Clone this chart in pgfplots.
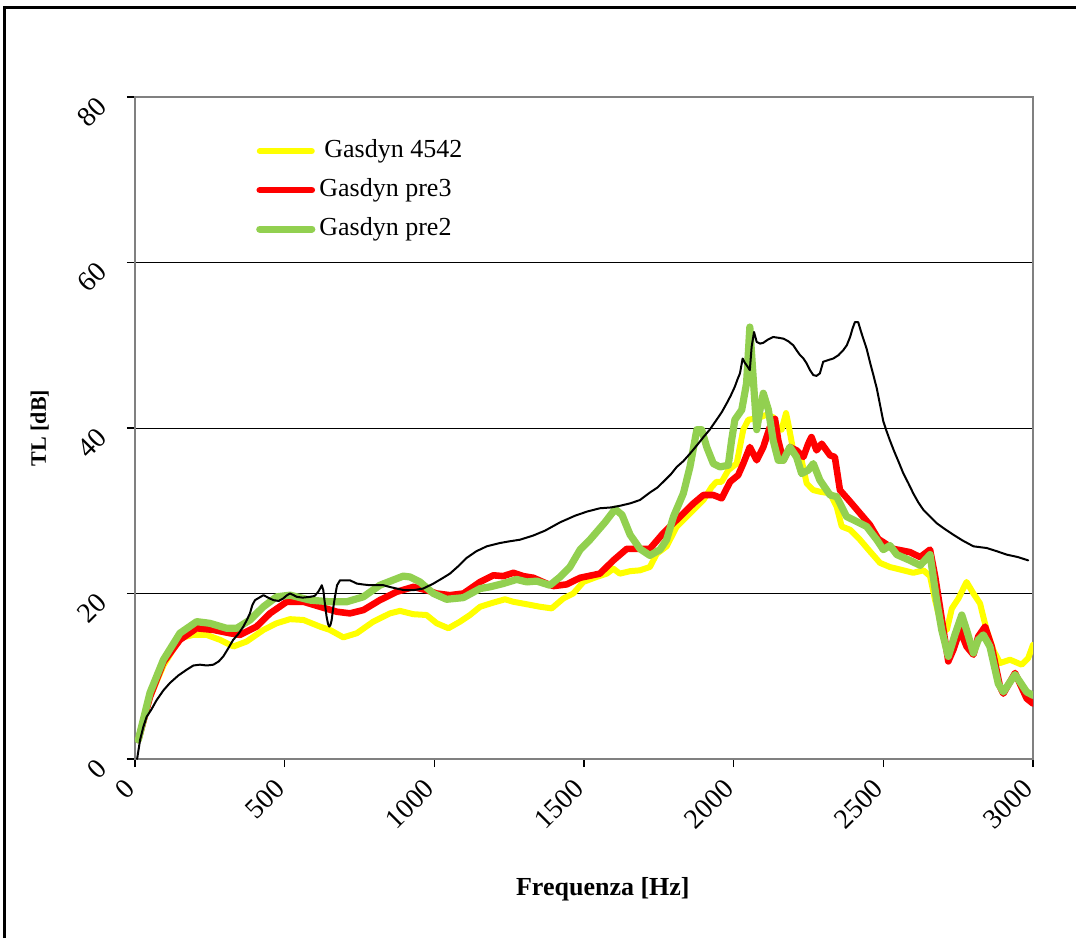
\documentclass[border=0pt]{standalone}
\usepackage{pgfplots}
\pgfplotsset{compat=1.18}
\usepackage{fontspec}
\setmainfont{Liberation Serif}
\definecolor{tlyellow}{RGB}{255,255,0}
\definecolor{tlred}{RGB}{255,0,0}
\definecolor{tlgreen}{RGB}{146,208,80}
\definecolor{framegray}{RGB}{128,128,128}

\pgfplotstableread{
f tl
11 2.3
50 7.5
95 11.3
150 14.6
195 15
239 15
284 14.4
329 13.6
373 14.2
429 15.6
473 16.4
518 16.9
563 16.8
618 16.0
651 15.6
696 14.7
741 15.2
796 16.6
852 17.6
885 17.9
930 17.5
974 17.4
1008 16.4
1047 15.8
1086 16.6
1119 17.4
1153 18.4
1197 18.9
1236 19.3
1264 19.0
1309 18.7
1353 18.4
1392 18.2
1431 19.4
1464 20.0
1498 21.4
1542 22.0
1576 22.4
1598 23.0
1620 22.4
1654 22.7
1687 22.8
1720 23.2
1743 24.8
1776 25.7
1810 28.1
1866 30.1
1899 31.3
1927 32.9
1943 33.5
1960 33.5
1982 34.9
2010 35.7
2032 39.8
2049 41.0
2065 41.1
2088 41.3
2110 41.6
2132 41.3
2149 39.8
2160 39.8
2175 41.8
2182 40.6
2199 37.3
2227 36.1
2244 33.3
2266 32.5
2288 32.3
2322 32.1
2344 30.5
2361 28.1
2389 27.7
2422 26.5
2455 25.1
2489 23.7
2522 23.2
2556 22.9
2600 22.5
2634 22.8
2656 22.1
2673 19.2
2689 16.8
2712 15.6
2729 18.2
2751 19.4
2778 21.4
2801 20.0
2823 18.8
2845 15.6
2867 13.2
2890 11.6
2923 12.0
2962 11.4
2984 12.2
3000 13.8
}\gasdynA

\pgfplotstableread{
f tl
11 2.3
50 7.5
95 11.7
150 14.4
206 15.8
262 15.6
317 15.2
351 15.0
406 16
451 17.6
507 19
563 19
618 18.4
674 17.8
718 17.6
763 18
818 19.2
874 20.2
930 20.8
974 20.4
1008 20.0
1052 19.8
1097 20.0
1153 21.4
1197 22.2
1230 22.1
1264 22.5
1297 22.1
1331 21.9
1375 21.2
1398 20.9
1442 21.1
1487 21.9
1553 22.4
1598 24.0
1643 25.4
1687 25.4
1720 25.4
1765 27.3
1821 29.3
1866 30.9
1899 31.9
1932 31.9
1960 31.5
1988 33.5
2015 34.3
2032 35.7
2054 37.7
2077 36.1
2099 37.7
2121 40.1
2138 41.1
2149 38.5
2166 36.1
2188 37.7
2210 37.3
2233 36.5
2249 38.1
2260 38.9
2277 37.3
2294 38.1
2322 36.7
2338 36.5
2355 32.5
2389 31.1
2422 29.7
2455 28.3
2483 26.6
2533 25.4
2589 25.0
2623 24.4
2656 25.3
2673 22.1
2689 18.4
2717 11.8
2734 13.2
2756 15.6
2778 13.6
2801 12.6
2817 14.8
2840 16.0
2862 13.6
2890 8.7
2901 7.9
2940 10.4
2979 7.3
3000 6.7
}\gasdynB

\pgfplotstableread{
f tl
11 2.3
50 8
95 12
150 15.2
206 16.6
250 16.4
306 15.8
340 15.8
384 16.8
429 18.4
473 19.6
518 19.8
585 19.2
651 19.0
707 19.0
763 19.6
818 21
896 22.1
919 22.0
952 21.4
997 20.0
1041 19.3
1097 19.5
1153 20.6
1186 20.8
1230 21.2
1275 21.7
1309 21.4
1342 21.5
1386 21.0
1420 22.0
1453 23.2
1487 25.3
1520 26.5
1570 28.6
1604 30.2
1627 29.5
1654 27.1
1687 25.4
1720 24.6
1754 25.3
1776 26.5
1799 29.3
1832 32.1
1854 35.3
1877 39.8
1893 39.8
1910 37.7
1932 35.7
1954 35.3
1982 35.5
1993 38.5
2004 41
2027 42.2
2043 45.4
2054 52.2
2065 46.2
2077 39.8
2088 42.2
2099 44.2
2116 42.2
2132 38.5
2149 36.1
2166 36.1
2188 37.7
2210 36.5
2227 34.5
2249 34.9
2266 35.7
2288 33.7
2322 31.9
2344 31.7
2377 29.3
2411 28.7
2444 28.1
2478 26.5
2500 25.3
2522 25.8
2545 24.7
2589 24.0
2623 23.4
2656 24.7
2678 19.2
2695 15.6
2717 12.4
2739 15.0
2762 17.4
2778 15.6
2801 12.8
2817 14.4
2834 15.0
2856 13.6
2884 9.1
2901 8.1
2940 10.2
2979 8.1
3000 7.7
}\gasdynC

\pgfplotstableread{
f tl
7 0
17 2.3
28 3.9
39 5.1
55 6.0
72 7.1
95 8.3
117 9.2
145 10.1
173 10.8
195 11.3
217 11.4
240 11.3
262 11.4
280 11.8
295 12.4
312 13.4
328 14.4
345 15.1
362 16
375 16.9
384 17.6
392 18.6
401 19.2
415 19.5
429 19.8
445 19.5
462 19.2
480 19.1
495 19.4
508 19.8
518 20
530 19.8
540 19.6
560 19.5
585 19.6
600 19.7
612 20.2
620 20.7
624 21
629 20.4
635 18.6
640 17.2
645 16.3
649 16
653 16.2
657 16.8
662 18.2
668 19.6
675 21.0
685 21.6
700 21.6
718 21.6
741 21.2
760 21.1
785 21
805 21.0
830 21
850 20.8
874 20.6
900 20.4
930 20.4
963 20.6
997 21.2
1025 21.8
1052 22.4
1080 23.3
1108 24.3
1140 25.1
1175 25.7
1219 26.1
1250 26.3
1286 26.5
1330 27.0
1370 27.6
1420 28.6
1470 29.4
1510 29.9
1553 30.3
1590 30.4
1620 30.6
1655 30.9
1687 31.3
1720 32.2
1745 32.8
1765 33.5
1790 34.4
1810 35.3
1832 36.0
1854 36.9
1877 37.9
1899 38.9
1920 39.8
1943 41
1960 41.9
1977 43
1990 43.9
2004 45
2013 45.9
2021 46.6
2030 48.4
2037 47.9
2043 47.6
2054 47
2060 49.8
2068 51.6
2077 50.4
2088 50.2
2099 50.3
2115 50.7
2132 51
2150 50.9
2166 50.8
2182 50.5
2199 50
2210 49.4
2222 48.8
2233 48.4
2244 47.8
2255 47.0
2266 46.4
2277 46.3
2288 46.6
2299 48
2315 48.2
2333 48.4
2350 48.8
2366 49.4
2378 50.0
2389 51
2397 52.0
2405 52.8
2416 52.8
2425 51.7
2433 50.8
2444 49.6
2455 48
2466 46.5
2478 44.8
2489 42.8
2500 40.8
2511 39.6
2522 38.5
2536 37.2
2550 36
2567 34.5
2584 33.3
2600 32.1
2617 31.0
2634 30.1
2656 29.3
2678 28.5
2705 27.8
2734 27.1
2765 26.4
2801 25.7
2845 25.5
2880 25.1
2912 24.7
2950 24.4
2984 24
}\tube

\begin{document}
\begin{tikzpicture}
\useasboundingbox (-67.5pt,-89.5pt) rectangle (470.5pt,379.5pt);
\draw[line width=1.5pt] (-65pt,-89.5pt) -- (-65pt,375.5pt) -- (470.5pt,375.5pt);
\begin{axis}[
  scale only axis, width=449pt, height=331pt,
  xmin=0, xmax=3000, ymin=0, ymax=80,
  xtick={0,500,...,3000}, ytick={0,20,...,80},
  tick align=outside, tick pos=left, major tick length=4pt,
  tick style={black, line width=0.6pt},
  ymajorgrids, grid style={black, line width=0.5pt},
  axis line style={framegray, line width=1pt},
  /pgf/number format/assume math mode=true,
  /pgf/number format/set thousands separator={},
  ticklabel style={font=\fontsize{14}{16}\selectfont},
  xticklabel style={rotate=45, anchor=east},
  yticklabel style={rotate=45, anchor=east},
  xticklabel shift=6pt,
  yticklabel shift=10pt,
  xlabel={\textbf{Frequenza [Hz]}},
  ylabel={\textbf{TL [dB]}},
  xlabel style={font=\fontsize{13}{15}\selectfont,
    at={(axis description cs:0.521,-0.196)}, anchor=center},
  ylabel style={font=\fontsize{11}{13}\selectfont,
    at={(axis description cs:-0.106,0.5)}, anchor=center, rotate=0},
  legend style={at={(axis description cs:0.1345,0.937)}, anchor=north west,
    draw=none, fill=none, inner sep=0pt, row sep=7.5pt, column sep=2pt,
    font=\fontsize{13}{15}\selectfont,
    nodes={inner sep=0pt, text height=9pt, text depth=3pt}},
  legend cell align=left,
  legend image code/.code={\draw[#1] (0pt,0pt) -- (26pt,0pt);},
  every axis plot/.append style={line join=round, line cap=round},
]
\addplot[tlyellow, line width=3pt] table[x=f, y=tl] {\gasdynA};
\addlegendentry{\hspace{2.5pt}Gasdyn 4542}
\addplot[tlred, line width=3.3pt] table[x=f, y=tl] {\gasdynB};
\addlegendentry{Gasdyn pre3}
\addplot[tlgreen, line width=3.6pt] table[x=f, y=tl] {\gasdynC};
\addlegendentry{Gasdyn pre2}
\addplot[black, line width=1pt, forget plot] table[x=f, y=tl] {\tube};
\end{axis}
\end{tikzpicture}
\end{document}
